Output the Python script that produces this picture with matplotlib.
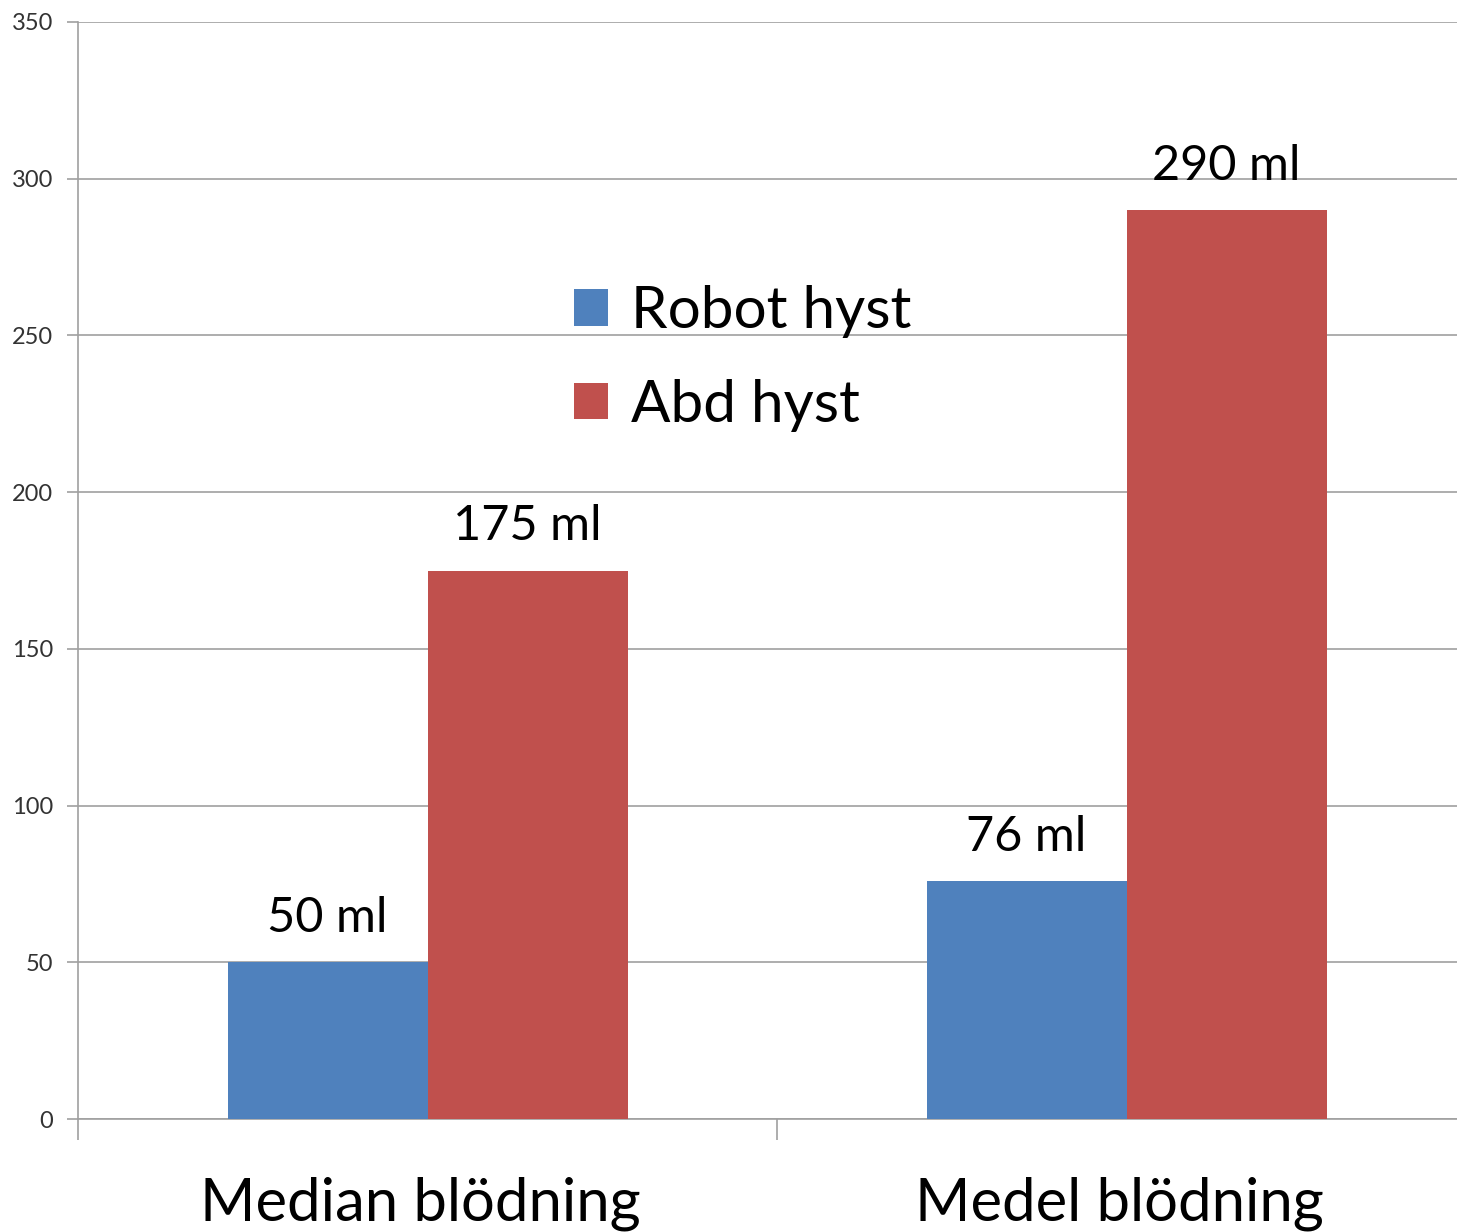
import numpy as np
from matplotlib import pyplot as plt

categories = ['Median blödning', 'Medel blödning']
robot_hyst = [50, 76]
abd_hyst = [175, 290]
series_names = ['Robot hyst', 'Abd hyst']
value_labels_robot = ['50 ml', '76 ml']
value_labels_abd = ['175 ml', '290 ml']
y_ticks = [0, 50, 100, 150, 200, 250, 300, 350]

plt.rcParams['font.family'] = ['Lato', 'DejaVu Sans']

fig = plt.figure(figsize=(14.57, 12.32), dpi=100)
W, H = 1457, 1232
# axes spans two category slots of ~699 px each, right edge runs past the image
ax = fig.add_axes([78 / W, (H - 1119) / H, 1398 / W, (1119 - 22) / H])

grid_c = '#a0a0a0'
blue = '#4f81bd'
red = '#c0504d'
bw = 200 / 699

x = np.arange(len(categories))
b1 = ax.bar(x - bw / 2, robot_hyst, bw, color=blue, label=series_names[0], zorder=3)
b2 = ax.bar(x + bw / 2, abd_hyst, bw, color=red, label=series_names[1], zorder=3)

for rects, labs in ((b1, value_labels_robot), (b2, value_labels_abd)):
    for r, lab in zip(rects, labs):
        ax.annotate(lab, (r.get_x() + r.get_width() / 2, r.get_height()),
                    xytext=(0, 16), textcoords='offset points',
                    ha='center', va='bottom', fontsize=35, color='black')

ax.set_xlim(-0.5, 1.5)
ax.set_ylim(0, 350)
ax.set_yticks(y_ticks)
ax.set_yticklabels([str(v) for v in y_ticks], fontsize=17, color='#333333')
ax.yaxis.grid(True, color=grid_c, linewidth=1.2, zorder=0)
ax.tick_params(axis='y', length=8, width=1.2, color=grid_c, pad=10)

# category ticks at slot boundaries, labels centred in slots
ax.set_xticks([-0.5, 0.5, 1.5])
ax.set_xticklabels([])
ax.tick_params(axis='x', length=15, width=1.2, color=grid_c)
for xi, name in zip(x, categories):
    ax.text(xi - 0.01, -0.052, name, transform=ax.get_xaxis_transform(),
            ha='center', va='top', fontsize=43, color='black')

for s in ['top', 'right']:
    ax.spines[s].set_visible(False)
for s in ['left', 'bottom']:
    ax.spines[s].set_color(grid_c)
    ax.spines[s].set_linewidth(1.2)

leg = fig.legend(handles=[b1, b2], loc='upper left',
                 bbox_to_anchor=(574 / W, (H - 285) / H),
                 frameon=False, fontsize=42, handlelength=0.58,
                 handleheight=0.58, handletextpad=0.4, labelspacing=0.7,
                 borderpad=0, borderaxespad=0)

fig.savefig('out.png', dpi=100)
